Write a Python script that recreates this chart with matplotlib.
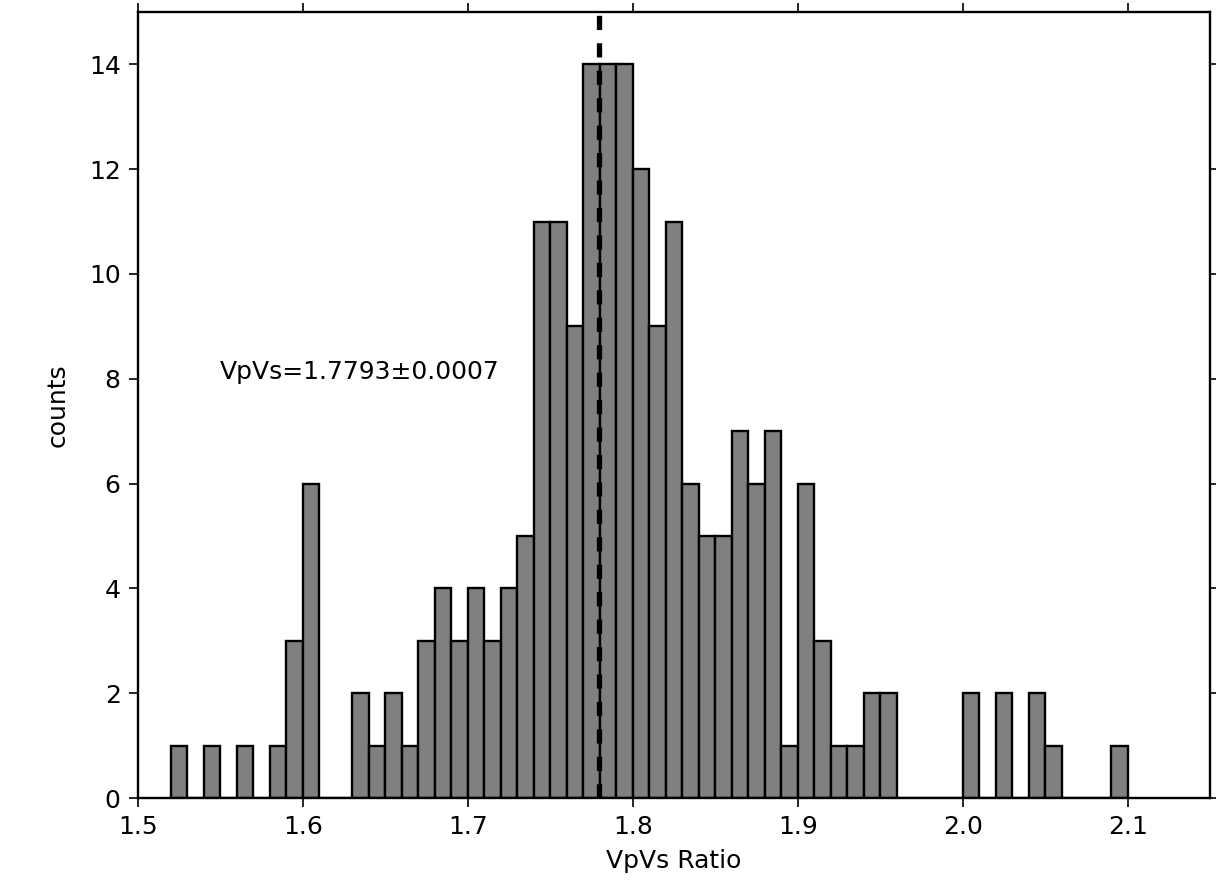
"""
Histogram of VpVs ratios with the mean marked as a dashed line.
"""

import matplotlib
matplotlib.use("Agg")
import matplotlib.pyplot as plt
import numpy as np

# bins of width 0.01 from 1.52 to 2.10
bin_edges = np.round(np.linspace(1.52, 2.10, 59), 2)
counts = [
    1, 0, 1, 0, 1, 0, 1, 3, 6, 0,      # 1.52 - 1.61
    0, 2, 1, 2, 1, 3, 4, 3, 4, 3,      # 1.62 - 1.71
    4, 5, 11, 11, 9, 14, 14, 14, 12, 9,  # 1.72 - 1.81
    11, 6, 5, 5, 7, 6, 7, 1, 6, 3,     # 1.82 - 1.91
    1, 1, 2, 2, 0, 0, 0, 0, 2, 0,      # 1.92 - 2.01
    2, 0, 2, 1, 0, 0, 0, 1,            # 2.02 - 2.09
]
vpvs_mean = 1.7793
vpvs_err = 0.0007

x_ticks = [1.5, 1.6, 1.7, 1.8, 1.9, 2.0, 2.1]
y_ticks = [0, 2, 4, 6, 8, 10, 12, 14]


def main() -> None:
    plt.rcParams["font.family"] = ["DejaVu Sans"]
    plt.rcParams["font.size"] = 18

    fig = plt.figure(figsize=(12.16, 8.81), dpi=100)
    ax = fig.add_axes([0.1135, 0.0942, 0.8816, 0.8922])

    ax.hist(
        bin_edges[:-1],
        bins=bin_edges,
        weights=counts,
        color="0.5",
        edgecolor="black",
        linewidth=1.7,
    )
    ax.axvline(vpvs_mean, color="black", linewidth=3.8, linestyle=(0, (2.7, 2.5)), zorder=5)
    ax.text(1.5497, 8.0, f"VpVs={vpvs_mean:.4f}\u00b1{vpvs_err:.4f}", fontsize=18, va="baseline")

    ax.set_xlim(1.5, 2.15)
    ax.set_ylim(0, 15)
    ax.set_xticks(x_ticks)
    ax.set_yticks(y_ticks)
    ax.set_xticklabels([f"{v:.1f}" for v in x_ticks])
    ax.set_xlabel("VpVs Ratio", fontsize=18, labelpad=7)
    ax.set_ylabel("counts", fontsize=18, labelpad=14)

    ax.tick_params(direction="out", length=6.5, width=1.2, top=True, right=True, pad=6, labelsize=18)
    for spine in ax.spines.values():
        spine.set_linewidth(1.7)

    fig.savefig("out.png", dpi=100)


if __name__ == "__main__":
    main()
